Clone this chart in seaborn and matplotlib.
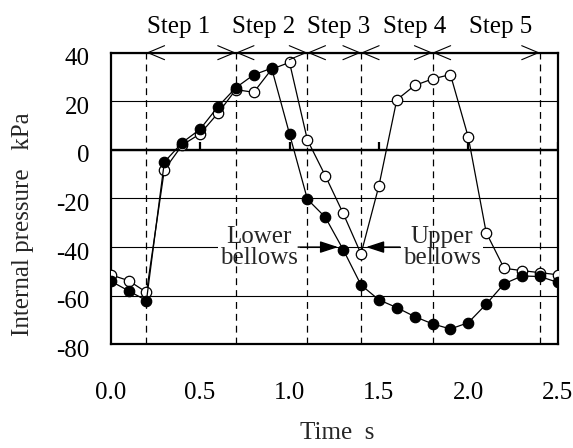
import matplotlib
matplotlib.use("Agg")
import matplotlib.pyplot as plt
import matplotlib.transforms as mtransforms
import numpy as np
import pandas as pd
import seaborn as sns

# ---- data ----
time = [0.0, 0.1, 0.2, 0.3, 0.4, 0.5, 0.6, 0.7, 0.8, 0.9, 1.0, 1.1, 1.2,
        1.3, 1.4, 1.5, 1.6, 1.7, 1.8, 1.9, 2.0, 2.1, 2.2, 2.3, 2.4, 2.5]
lower_bellows = [-54.0, -58.0, -62.0, -5.0, 3.0, 8.5, 17.8, 25.6, 30.9, 33.6,
                 6.6, -20.3, -27.7, -41.0, -55.6, -61.7, -64.9, -68.6, -71.6,
                 -73.7, -71.1, -63.5, -55.1, -51.9, -52.1, -54.5]
upper_bellows = [-51.4, -53.8, -58.6, -8.2, 2.0, 6.6, 15.1, 24.8, 23.7, 33.2,
                 36.0, 4.1, -10.6, -26.1, -42.8, -14.8, 20.6, 26.5, 29.2,
                 31.0, 5.2, -34.0, -48.7, -49.7, -50.5, -51.4]
step_bounds = [0.2, 0.7, 1.1, 1.4, 1.8, 2.4]
step_labels = ["Step 1", "Step 2", "Step 3", "Step 4", "Step 5"]
xticks = [0.0, 0.5, 1.0, 1.5, 2.0, 2.5]
xtick_labels = ["0.0", "0.5", "1.0", "1.5", "2.0", "2.5"]
yticks = [40, 20, 0, -20, -40, -60, -80]
ytick_labels = ["40", "20", "0", "-20", "-40", "-60", "-80"]

# ---- layout (positions only) ----
step_label_x = [0.382, 0.857, 1.277, 1.702, 2.183]

sns.set_theme(style="white")
plt.rcParams["font.family"] = ["Liberation Serif", "DejaVu Serif"]
FS = 18

df = pd.DataFrame({"Time": time, "Lower": lower_bellows, "Upper": upper_bellows})

fig = plt.figure(figsize=(5.73, 4.48), dpi=100)
ax = fig.add_axes([0.1932, 0.2315, 0.7801, 0.6509])

sns.lineplot(data=df, x="Time", y="Upper", ax=ax, color="black", lw=0.9,
             marker="o", markersize=7.5, markerfacecolor="white",
             markeredgecolor="black", markeredgewidth=0.9, zorder=4)
sns.lineplot(data=df, x="Time", y="Lower", ax=ax, color="black", lw=0.9,
             marker="o", markersize=7.5, markerfacecolor="black",
             markeredgecolor="black", markeredgewidth=0.9, zorder=5)

ax.set_xlim(0, 2.5)
ax.set_ylim(-80, 40)
ax.set_xticks(xticks)
ax.set_xticklabels(xtick_labels)
ax.set_yticks(yticks)
ax.set_yticklabels(ytick_labels)
ax.set_xlabel("")
ax.set_ylabel("")
ax.tick_params(axis="both", length=0, labelsize=FS, colors="black")
ax.tick_params(axis="x", pad=27)
ax.tick_params(axis="y", pad=15)
off = mtransforms.ScaledTranslation(0, -4 / 100, fig.dpi_scale_trans)
for lab in ax.get_yticklabels():
    lab.set_transform(lab.get_transform() + off)

for s in ax.spines.values():
    s.set_linewidth(1.6)
    s.set_color("black")
    s.set_visible(True)

ax.grid(axis="y", color="black", lw=0.8)
ax.grid(axis="x", visible=False)
ax.set_axisbelow(True)
ax.axhline(0, color="black", lw=1.7, zorder=1)
ax.vlines(xticks[1:], 0, 3.3, color="black", lw=1.6, zorder=3)

for b in step_bounds:
    ax.axvline(b, color="black", lw=0.9, linestyle=(0, (5.5, 4)), zorder=2)

for a, b in zip(step_bounds[:-1], step_bounds[1:]):
    ax.annotate("", xy=(b, 40), xytext=(a, 40),
                arrowprops=dict(arrowstyle="<->,head_length=1.0,head_width=0.42",
                                lw=0.8, color="black", shrinkA=0, shrinkB=0),
                annotation_clip=False, zorder=6)

for x, lab in zip(step_label_x, step_labels):
    ax.text(x, 1.0676, lab, transform=ax.get_xaxis_transform(), ha="center",
            va="baseline", fontsize=FS, color="black")

box = dict(fc="white", ec="none", pad=1.5)
ax.text(0.829, -40, "Lower\nbellows", ha="center", va="center", fontsize=FS,
        linespacing=0.95, multialignment="center", bbox=box, zorder=1.5)
ax.text(1.853, -40, "Upper\nbellows", ha="center", va="center", fontsize=FS,
        linespacing=0.95, multialignment="center", bbox=box, zorder=1.5)

arrow = dict(arrowstyle="-|>,head_length=0.55,head_width=0.18", lw=1.0,
             color="black", mutation_scale=20, shrinkA=0, shrinkB=3.6)
ax.annotate("", xy=(1.3, -40), xytext=(1.048, -40), arrowprops=arrow, zorder=6)
ax.annotate("", xy=(1.4, -40), xytext=(1.618, -40), arrowprops=arrow, zorder=6)

fig.text(337 / 573, 9 / 448, "Time  s", ha="center", va="baseline", fontsize=FS)
fig.text(29 / 573, 0.5, "Internal pressure   kPa", rotation=90,
         rotation_mode="anchor", ha="center", va="baseline", fontsize=FS)

fig.savefig("out.png", dpi=100)
